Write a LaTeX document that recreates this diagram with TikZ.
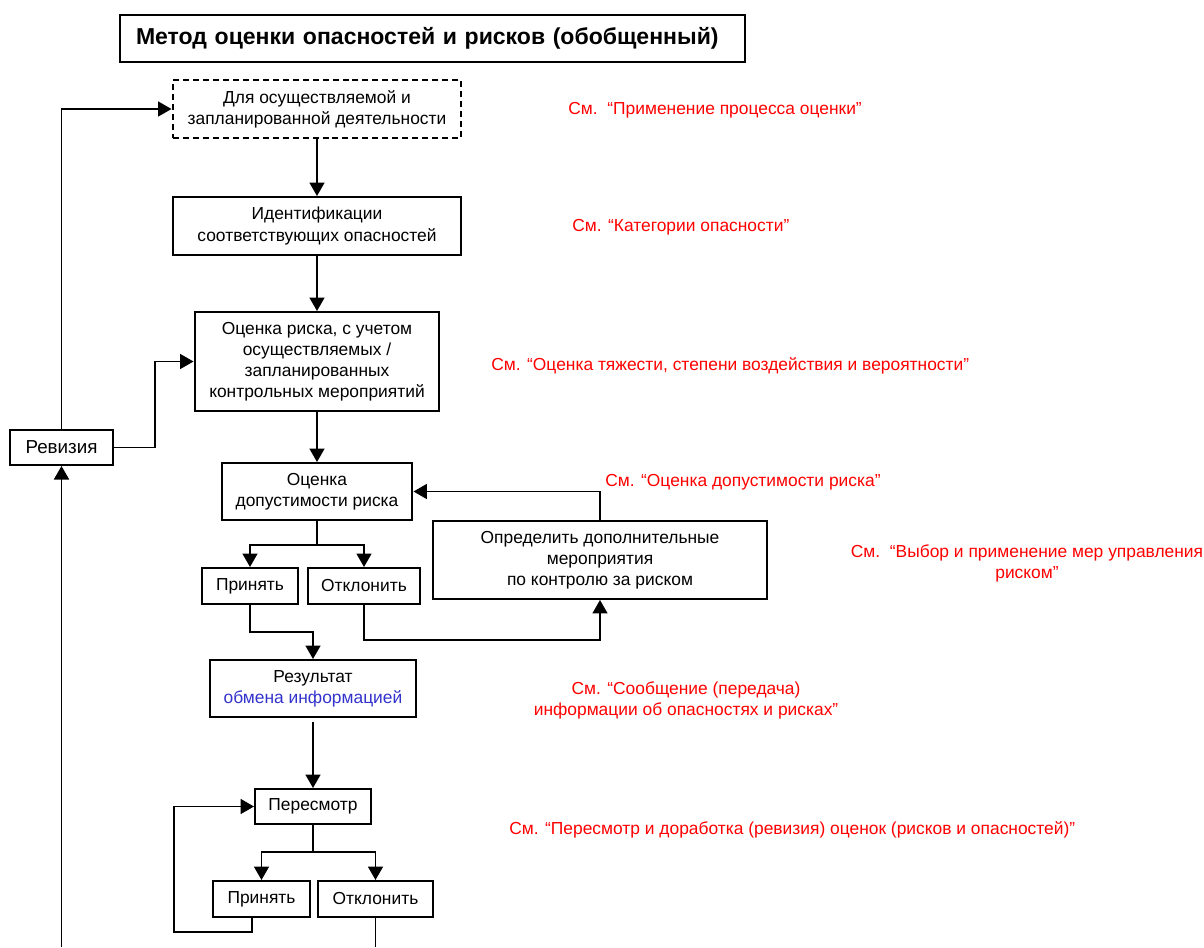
\documentclass[tikz,border=0pt]{standalone}
\usepackage{fontspec}
\setmainfont{Liberation Sans}
\usetikzlibrary{arrows.meta}
\definecolor{seered}{RGB}{255,0,0}
\definecolor{infoblue}{RGB}{51,51,204}
\def\bodyfont{\fontsize{9.9}{12}\selectfont}
\tikzset{
	box/.style={draw, line width=0.4mm, align=center, inner sep=0pt, font=\bodyfont},
	seetext/.style={text=seered, inner sep=0pt, font=\bodyfont},
	wire/.style={line width=0.35mm},
	link/.style={line width=0.35mm, -{Triangle[length=2.7mm, width=3mm]}},
}

\begin{document}
\begin{tikzpicture}[x=0.02cm, y=-0.02cm]
			%%%%% START %%%%%
			\useasboundingbox (0, 0) rectangle (1204, 947);
			
			\node[box, minimum width=12.5cm, minimum height=0.94cm, inner xsep=0.32cm, text width=11.86cm, align=left, font=\fontsize{13.1}{15}\selectfont\bfseries] (title) at (432.5, 38.5) {Метод оценки опасностей и рисков (обобщенный)};
			
			\node[box, dashed, dash pattern=on 1.2mm off 0.8mm, minimum width=5.78cm, minimum height=1.16cm] (plan) at (317, 109) {Для осуществляемой и\\запланированной деятельности};
			\node[box, minimum width=5.78cm, minimum height=1.16cm] (ident) at (317, 226) {Идентификации\\соответствующих опасностей};
			\node[box, minimum width=4.9cm, minimum height=1.98cm] (risk) at (317, 361.5) {Оценка риска, с учетом\\осуществляемых /\\запланированных\\контрольных мероприятий};
			\node[box, minimum width=3.82cm, minimum height=1.14cm] (accept) at (317, 491.5) {Оценка\\допустимости риска};
			
			\node[box, minimum width=1.92cm, minimum height=0.72cm] (yesA) at (250, 586) {Принять};
			\node[box, minimum width=2.26cm, minimum height=0.72cm] (noA) at (364, 586) {Отклонить};
			\node[box, minimum width=6.68cm, minimum height=1.56cm] (extra) at (600, 560) {Определить дополнительные\\мероприятия\\по контролю за риском};
			
			\node[box, minimum width=4.14cm, minimum height=1.14cm] (result) at (313, 688.5) {Результат\\\textcolor{infoblue}{обмена информацией}};
			\node[box, minimum width=2.32cm, minimum height=0.7cm] (review) at (313, 806.5) {Пересмотр};
			\node[box, minimum width=1.94cm, minimum height=0.72cm] (yesB) at (261.5, 899) {Принять};
			\node[box, minimum width=2.3cm, minimum height=0.72cm] (noB) at (375.5, 899) {Отклонить};
			
			\node[box, minimum width=2.06cm, minimum height=0.7cm, font=\fontsize{10.7}{13}\selectfont] (revision) at (61.5, 447.5) {Ревизия};
			
			% red references
			\node[seetext, anchor=west] (seeApply) at (568, 110) {См.~~“Применение процесса оценки”};
			\node[seetext, anchor=west] (seeCat) at (572, 227) {См. “Категории опасности”};
			\node[seetext, anchor=west] (seeSev) at (491, 366) {См. “Оценка тяжести, степени воздействия и вероятности”};
			\node[seetext, anchor=west] (seeAcc) at (605, 482) {См. “Оценка допустимости риска”};
			\node[seetext, align=center] (seeCtrl) at (1027, 563) {См.~~“Выбор и применение мер управления\\риском”};
			\node[seetext, align=center] (seeInfo) at (686, 700.5) {См. “Сообщение (передача)\\информации об опасностях и рисках”};
			\node[seetext, anchor=west] (seeRev) at (509, 830) {См. “Пересмотр и доработка (ревизия) оценок (рисков и опасностей)”};
			
			% main chain
			\draw[link] (plan.south) -- (ident.north);
			\draw[link] (ident.south) -- (risk.north);
			\draw[link] (risk.south) -- (accept.north);
			
			\coordinate (splitA) at (317, 545);
			\draw[wire] (accept.south) -- (splitA);
			\draw[link] (splitA) -| (yesA.north);
			\draw[link] (splitA) -| (noA.north);
			\draw[link] (extra.north) |- (accept.east);
			\draw[link] (noA.south) -- ++(0, 35) -| (extra.south);
			\draw[link] (yesA.south) -- ++(0, 27) -| (result.north);
			
			\draw[link, shorten <=0.08cm] (result.south) -- (review.north);
			\coordinate (splitB) at (313, 852);
			\draw[wire] (review.south) -- (splitB);
			\draw[link] (splitB) -| (yesB.north);
			\draw[link] (splitB) -| (noB.north);
			\coordinate (loopB) at (174, 932);
			\draw[link] ([xshift=-0.19cm]yesB.south) |- (loopB) |- (review.west);
			\coordinate (outB) at (375.5, 947);
			\draw[wire] (noB.south) -- (outB);
			
			% revision loop
			\coordinate (inR) at (61.5, 947);
			\draw[link] (inR) -- (revision.south);
			\draw[link] (revision.north) |- (plan.west);
			\draw[link] (revision.east) -- ++(41, 0) |- (risk.west);
			
			%%%%% END %%%%%
		\end{tikzpicture}
\end{document}
